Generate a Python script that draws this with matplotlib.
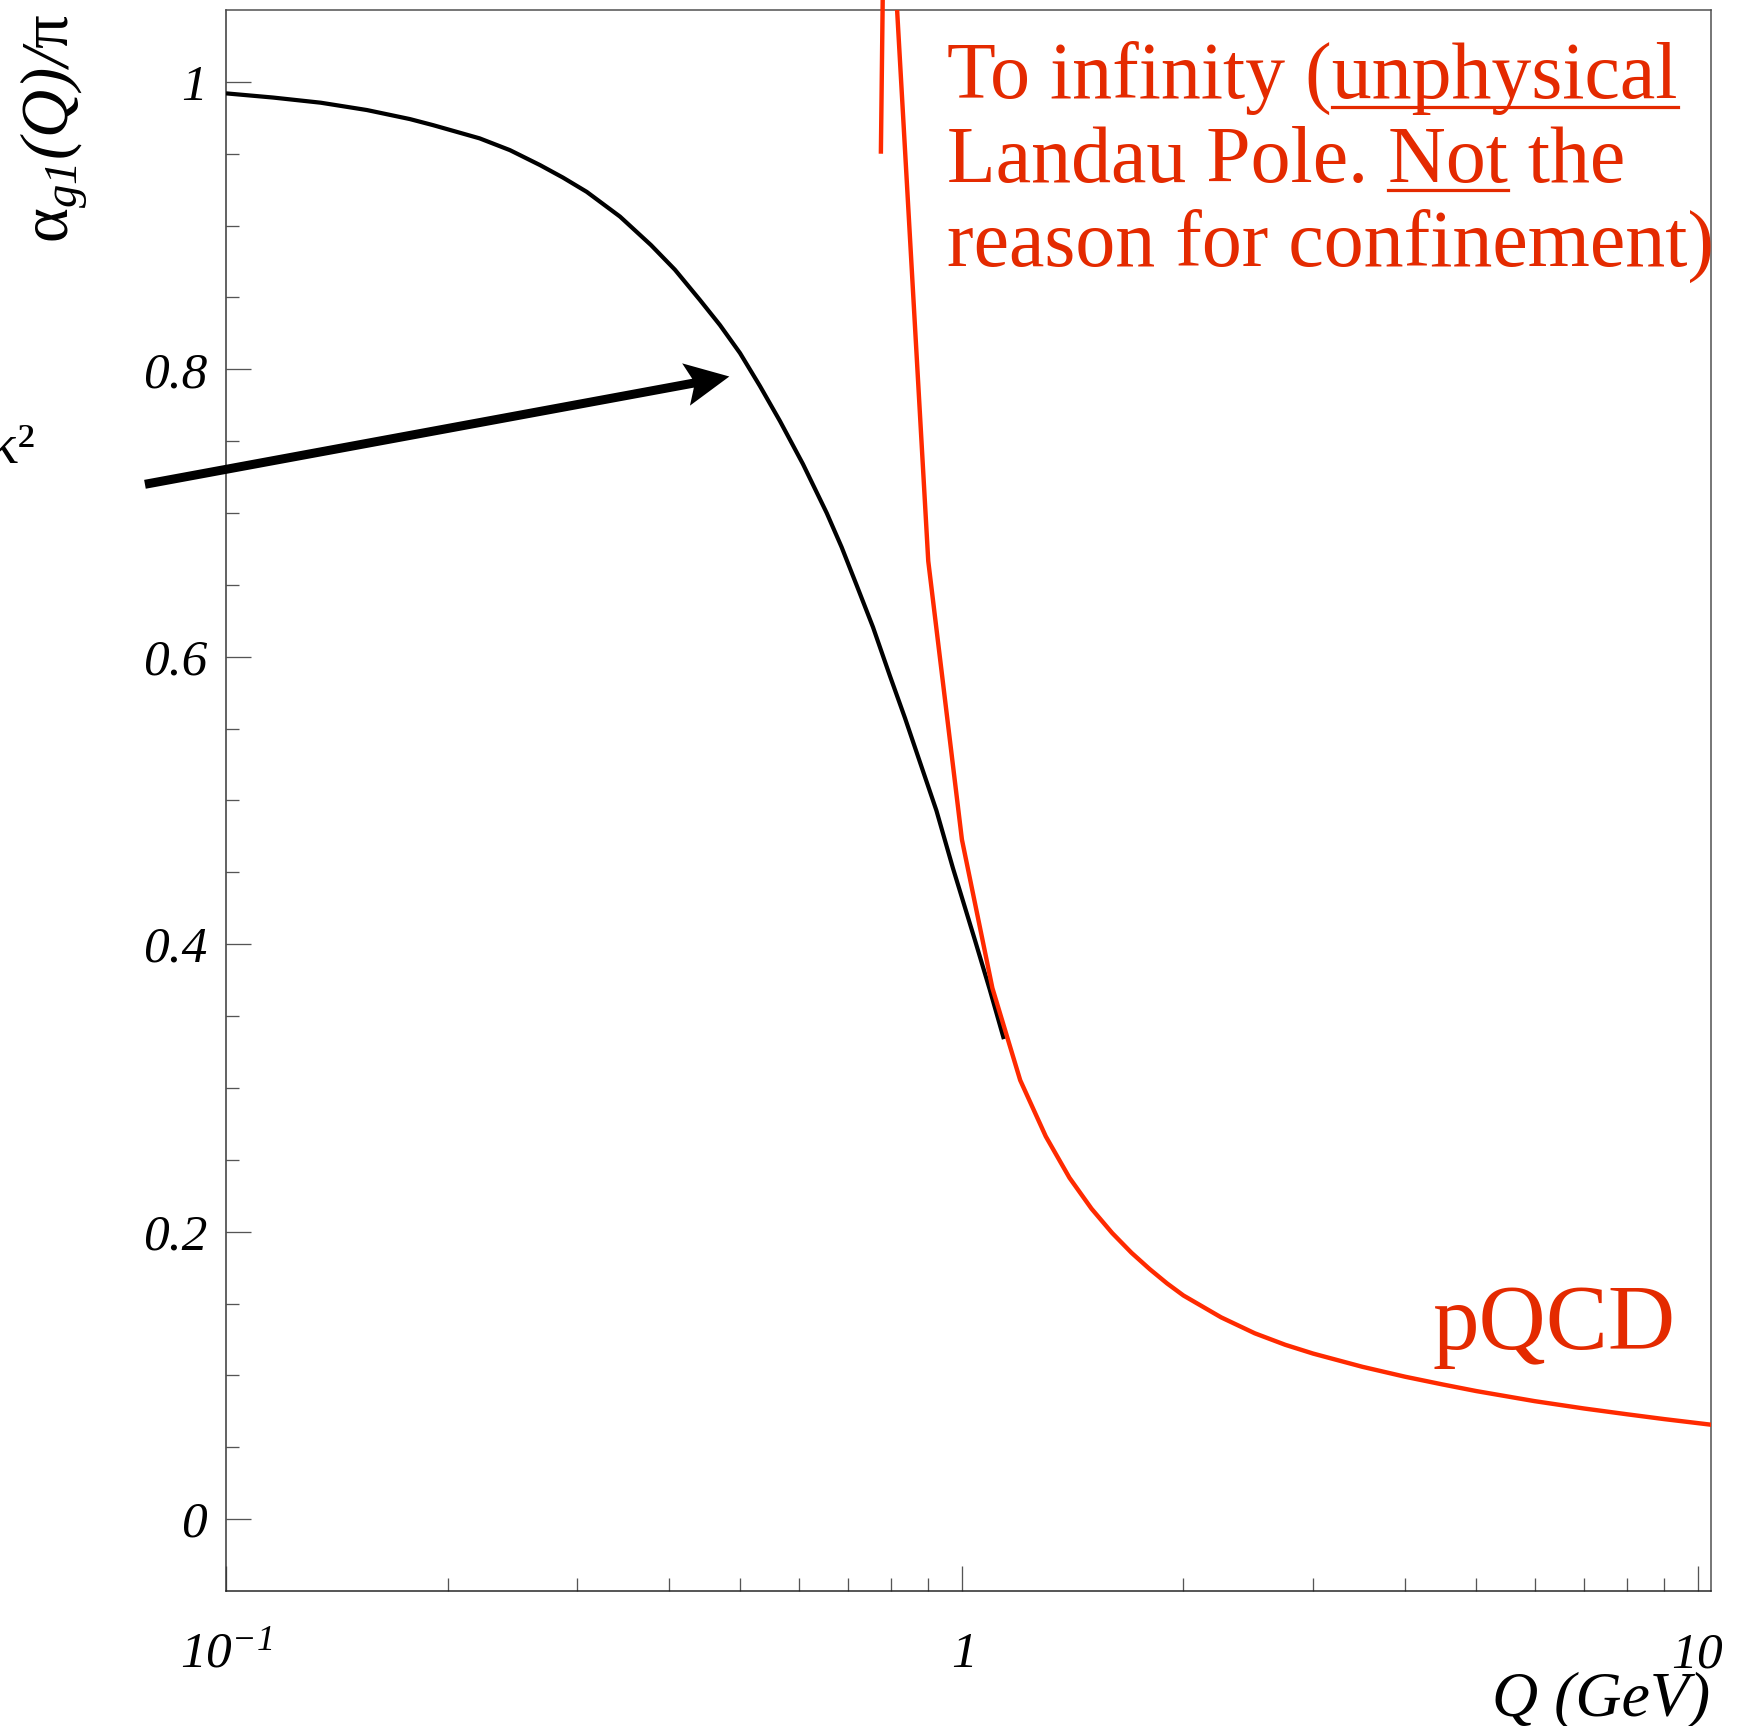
import matplotlib
matplotlib.use("Agg")
import matplotlib.pyplot as plt
from matplotlib.patches import Polygon
from matplotlib.lines import Line2D
from matplotlib.transforms import IdentityTransform
import numpy as np

# ---- data -------------------------------------------------------------
# effective coupling alpha_g1(Q)/pi (black curve)
black_q = [0.1000, 0.1158, 0.1345, 0.1554, 0.1778, 0.1911, 0.2211, 0.2431,
           0.2671, 0.2870, 0.3091, 0.3430, 0.3779, 0.4074, 0.4406, 0.4690,
           0.4994, 0.5315, 0.5659, 0.6081, 0.6551, 0.6863, 0.7192, 0.7570,
           0.7984, 0.8368, 0.8768, 0.9233, 0.9722, 1.0415, 1.0915, 1.1404]
black_val = [0.9920, 0.9891, 0.9855, 0.9804, 0.9741, 0.9699, 0.9607, 0.9525,
             0.9421, 0.9334, 0.9235, 0.9063, 0.8865, 0.8693, 0.8482, 0.8308,
             0.8113, 0.7884, 0.7640, 0.7341, 0.7000, 0.6763, 0.6499, 0.6207,
             0.5866, 0.5574, 0.5268, 0.4930, 0.4530, 0.4029, 0.3681, 0.3340]

# perturbative QCD coupling (red curve)
red_q = [0.8, 0.9, 1.0, 1.1, 1.2, 1.3, 1.4, 1.5, 1.6, 1.7, 1.8, 1.9, 2.0,
         2.25, 2.5, 2.75, 3.0, 3.5, 4.0, 4.5, 5.0, 6.0, 7.0, 8.0, 9.0, 10.0,
         10.42]
red_val = [1.13, 0.6666, 0.4728, 0.3695, 0.3054, 0.2663, 0.2375, 0.2160,
           0.1991, 0.1853, 0.1739, 0.1640, 0.1556, 0.1404, 0.1293, 0.1213,
           0.1152, 0.1060, 0.0991, 0.0937, 0.0891, 0.0821, 0.0770, 0.0730,
           0.0696, 0.0668, 0.0657]

# branch on the other side of the Landau pole
pole_q = [0.776, 0.781]
pole_val = [0.950, 1.070]

# arrow: tail and tip in data coordinates
arrow_tail = (0.0776, 0.720)
arrow_tip = (0.483, 0.795)

y_major = [0, 0.2, 0.4, 0.6, 0.8, 1.0]
y_labels = ["0", "0.2", "0.4", "0.6", "0.8", "1"]
y_minor = [0.05, 0.1, 0.15, 0.25, 0.3, 0.35, 0.45, 0.5, 0.55, 0.65, 0.7,
           0.75, 0.85, 0.9, 0.95]
x_major = [0.1, 1.0, 10.0]
x_labels = [r"$\mathsf{10}^{\mathsf{-1}}$", r"$\mathsf{1}$", r"$\mathsf{10}$"]
x_minor = [0.2, 0.3, 0.4, 0.5, 0.6, 0.7, 0.8, 0.9,
           2, 3, 4, 5, 6, 7, 8, 9]

# ---- style ------------------------------------------------------------
W, H, DPI = 1754, 1726, 100
PX = 72.0 / DPI  # points per pixel
SERIF = "Liberation Serif"
RED_LINE = "#ff2a00"
RED_TEXT = "#e42a00"
FRAME = "#4d4d4d"

plt.rcParams["mathtext.fontset"] = "custom"
plt.rcParams["mathtext.rm"] = SERIF
plt.rcParams["mathtext.it"] = SERIF + ":italic"
plt.rcParams["mathtext.sf"] = SERIF + ":italic"
plt.rcParams["mathtext.bf"] = SERIF + ":bold"
plt.rcParams["font.family"] = SERIF

fig = plt.figure(figsize=(W / DPI, H / DPI), dpi=DPI)
fig.patch.set_facecolor("white")

ax_l, ax_r, ax_t, ax_b = 226, 1711, 10, 1591
ax = fig.add_axes([ax_l / W, 1 - ax_b / H, (ax_r - ax_l) / W, (ax_b - ax_t) / H])
ax.set_xscale("log")
ax.set_xlim(0.1, 10.42)
ax.set_ylim(-0.05, 1.05)

for s in ax.spines.values():
    s.set_color(FRAME)
    s.set_linewidth(1.5 * PX)
ax.spines["bottom"].set_color("#222222")
ax.spines["left"].set_color("#333333")

ax.set_yticks(y_major)
ax.set_yticklabels(y_labels)
ax.set_yticks(y_minor, minor=True)
ax.set_xticks(x_major)
ax.set_xticklabels(x_labels)
ax.set_xticks(x_minor, minor=True)
ax.xaxis.set_minor_formatter(matplotlib.ticker.NullFormatter())

ax.tick_params(axis="both", which="both", direction="in", top=False,
               right=False, color="#555555", width=1.3 * PX)
ax.tick_params(axis="both", which="major", length=25 * PX)
ax.tick_params(axis="both", which="minor", length=13 * PX)
ax.tick_params(axis="y", which="major", labelsize=37, pad=19 * PX)
ax.tick_params(axis="x", which="major", labelsize=37, pad=76 * PX)
for lab in ax.get_yticklabels():
    lab.set_fontstyle("italic")
    lab.set_family(SERIF)
for lab in ax.get_xticklabels():
    lab.set_verticalalignment("baseline")

# ---- curves -----------------------------------------------------------
ax.plot(black_q, black_val, color="black", lw=4.2 * PX,
        solid_joinstyle="round", solid_capstyle="butt", zorder=3)
ax.plot(red_q, red_val, color=RED_LINE, lw=4.4 * PX,
        solid_joinstyle="miter", zorder=4)
ax.plot(pole_q, pole_val, color=RED_LINE, lw=4.4 * PX, clip_on=False,
        solid_capstyle="butt", zorder=4)

# ---- arrow (built in display space from data end points) -----------
fig.canvas.draw()
tail = ax.transData.transform(arrow_tail)
tip = ax.transData.transform(arrow_tip)
u = (tip - tail) / np.hypot(*(tip - tail))
n = np.array([-u[1], u[0]])
shaft, head_len, head_hw, notch = 4.5, 44.0, 21.5, 35.0
join = notch + (head_len - notch) * shaft / head_hw
pts = [tail + n * shaft,
       tip - u * join + n * shaft,
       tip - u * head_len + n * head_hw,
       tip,
       tip - u * head_len - n * head_hw,
       tip - u * join - n * shaft,
       tail - n * shaft]
fig.add_artist(Polygon(pts, closed=True, facecolor="black", edgecolor="none",
                       transform=IdentityTransform(), zorder=5))

# ---- labels -----------------------------------------------------------
fig.text(54 / W, 1 - 128 / H,
         r"$\mathrm{\alpha}_{\mathsf{g1}}\mathsf{(Q)/}\mathrm{\pi}$",
         rotation=90, ha="center", va="center", fontsize=48)
fig.text(1710 / W, 1 - 1715 / H, "Q (GeV)", ha="right", va="baseline",
         fontsize=46, fontstyle="italic", family=SERIF)
fig.text(36 / W, 1 - 463 / H, "κ²", ha="right", va="baseline",
         fontsize=42, family=SERIF)

# ---- red annotation ---------------------------------------------------
TX = 947
lines = ["To infinity (unphysical", "Landau Pole. Not the",
         "reason for confinement)"]
baselines = [98, 182, 266]
underlined = [("To infinity (unphysical", "unphysical", 107),
              ("Landau Pole. Not", "Not", 190)]
FS = 57.5
for txt, yb in zip(lines, baselines):
    fig.text(TX / W, 1 - yb / H, txt, ha="left", va="baseline",
             fontsize=FS, color=RED_TEXT, family=SERIF)

renderer = fig.canvas.get_renderer()
for upto, word, yu in underlined:
    t_full = fig.text(TX / W, 0.5, upto, fontsize=FS, family=SERIF)
    t_word = fig.text(TX / W, 0.5, word, fontsize=FS, family=SERIF)
    x_end = t_full.get_window_extent(renderer).x1
    x_start = x_end - t_word.get_window_extent(renderer).width
    t_full.remove()
    t_word.remove()
    fig.add_artist(Line2D([x_start / W, x_end / W], [1 - yu / H, 1 - yu / H],
                          color=RED_TEXT, lw=3.2 * PX,
                          transform=fig.transFigure))

fig.text(1432 / W, 1 - 1349 / H, "pQCD", ha="left", va="baseline",
         fontsize=67, color=RED_TEXT, family=SERIF)

fig.savefig("out.png", dpi=DPI, facecolor="white")
